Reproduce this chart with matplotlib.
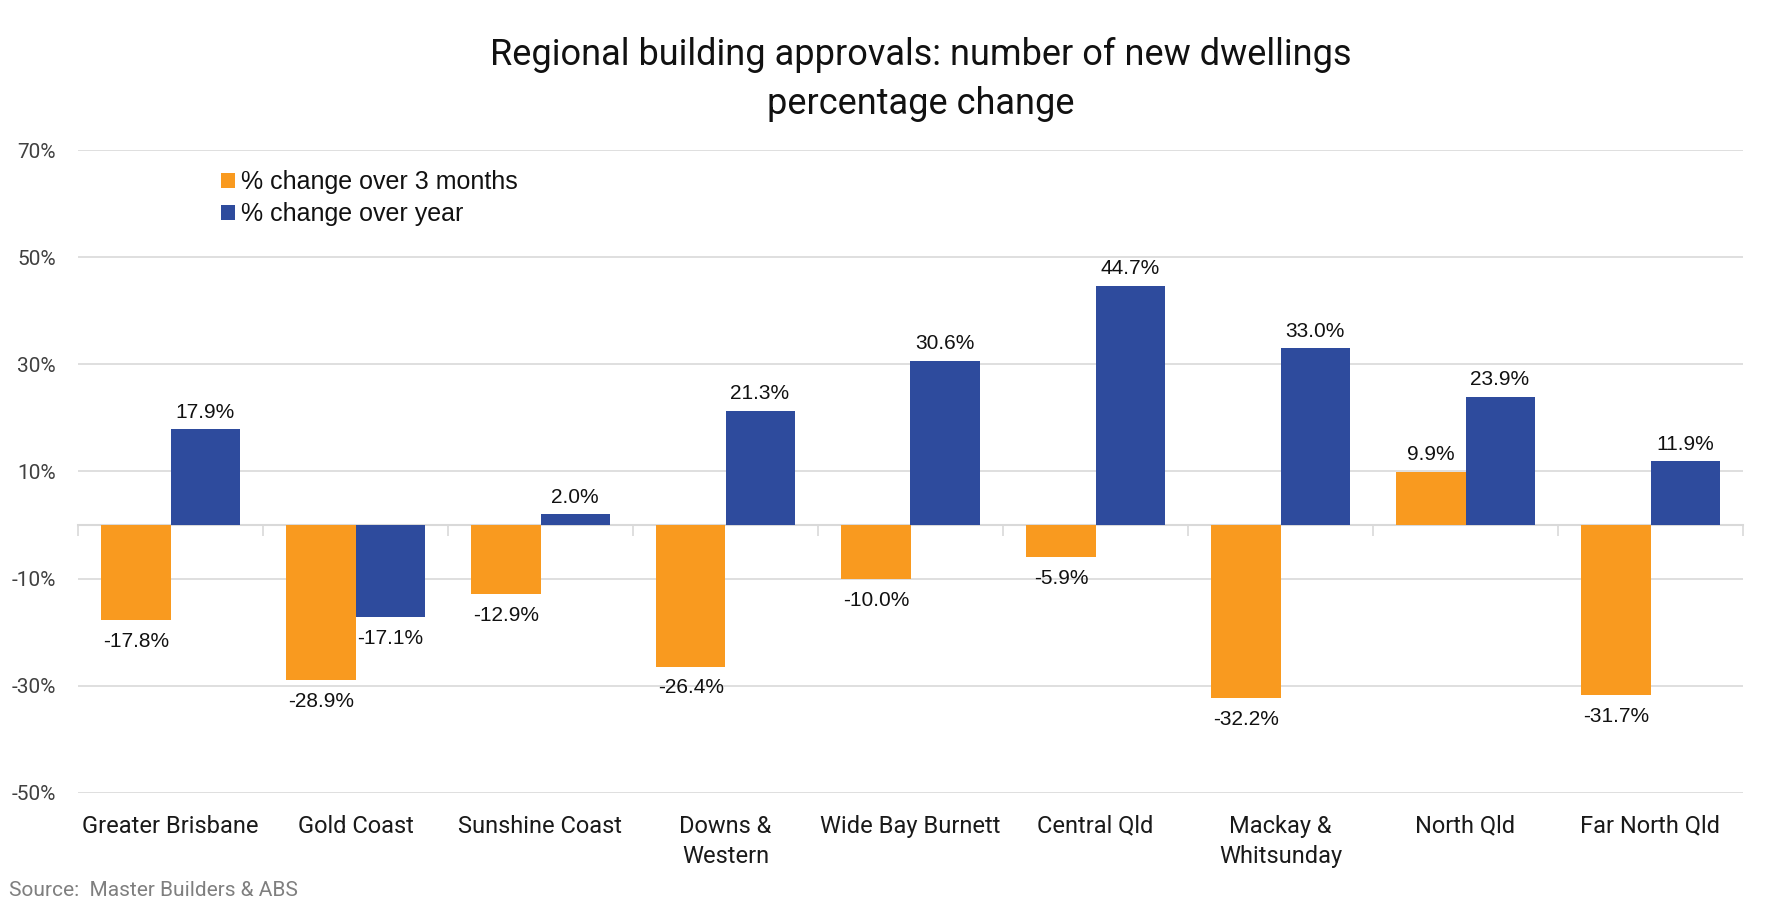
from matplotlib import pyplot as plt
import numpy as np

# data
regions = ['Greater Brisbane', 'Gold Coast', 'Sunshine Coast', 'Downs &\nWestern',
           'Wide Bay Burnett', 'Central Qld', 'Mackay &\nWhitsunday', 'North Qld',
           'Far North Qld']
chg_3m = [-17.8, -28.9, -12.9, -26.4, -10.0, -5.9, -32.2, 9.9, -31.7]
chg_yr = [17.9, -17.1, 2.0, 21.3, 30.6, 44.7, 33.0, 23.9, 11.9]
yticks = [-50, -30, -10, 10, 30, 50, 70]

ORANGE = '#F99A1F'
BLUE = '#2E4B9D'
GRID = '#D9D9D9'
DIN = 'Roboto'
ARIAL = 'Liberation Sans'

fig = plt.figure(figsize=(17.7, 9.11), dpi=100)
ax = fig.add_axes([78/1770, 1-793/911, (1743-78)/1770, (793-150)/911])

x = np.arange(len(regions))
w = 0.373
b1 = ax.bar(x - w/2, chg_3m, w, color=ORANGE, label='% change over 3 months', zorder=2)
b2 = ax.bar(x + w/2, chg_yr, w, color=BLUE, label='% change over year', zorder=2)

for bars, vals in [(b1, chg_3m), (b2, chg_yr)]:
    for r, v in zip(bars, vals):
        cx = r.get_x() + r.get_width()/2
        if v >= 0:
            ax.annotate(f'{v:.1f}%', (cx, v), xytext=(0, 5.5), textcoords='offset points',
                        ha='center', va='bottom', fontsize=15, family=ARIAL, color='#111111')
        else:
            ax.annotate(f'{v:.1f}%', (cx, v), xytext=(0, -8.6), textcoords='offset points',
                        ha='center', va='top', fontsize=15, family=ARIAL, color='#111111')

ax.set_xlim(-0.5, len(regions) - 0.5)
ax.set_ylim(-50, 70)
ax.set_yticks(yticks)
ax.set_yticklabels([f'{t}%' for t in yticks], family=DIN, fontsize=15, color='#404040')
ax.yaxis.grid(True, color=GRID, linewidth=1.2)
ax.set_axisbelow(True)
ax.tick_params(axis='y', length=0, pad=16)

ax.set_xticks(x)
ax.set_xticklabels(regions, family=DIN, fontsize=17, color='#1a1a1a', linespacing=1.4)
ax.tick_params(axis='x', length=0, pad=15.5)
for s in ax.spines.values():
    s.set_visible(False)

# zero line with category tick marks
zero = ax.secondary_xaxis(50/120)
zero.set_xticks(np.arange(len(regions) + 1) - 0.5)
zero.set_xticklabels([])
zero.tick_params(axis='x', length=8, width=1.2, color=GRID, direction='out')
zero.spines['bottom'].set_color(GRID)
zero.spines['bottom'].set_linewidth(1.5)

leg = fig.legend(loc='upper left', bbox_to_anchor=(221/1770, 1-170/911), frameon=False,
                 prop={'family': ARIAL, 'size': 18}, handlelength=0.56, handleheight=0.56,
                 handletextpad=0.25, labelspacing=0.32, borderpad=0, borderaxespad=0)
for t in leg.get_texts():
    t.set_color('#111111')

fig.text(921/1770, 1-55/911, 'Regional building approvals: number of new dwellings',
         ha='center', va='center', family=DIN, fontsize=26, color='#111111')
fig.text(921/1770, 1-104/911, 'percentage change',
         ha='center', va='center', family=DIN, fontsize=26, color='#111111')

fig.text(9/1770, 1-891/911, 'Source:  Master Builders & ABS', ha='left', va='center',
         family=DIN, fontsize=15, color='#7f7f7f')

fig.savefig('out.png', dpi=100)
